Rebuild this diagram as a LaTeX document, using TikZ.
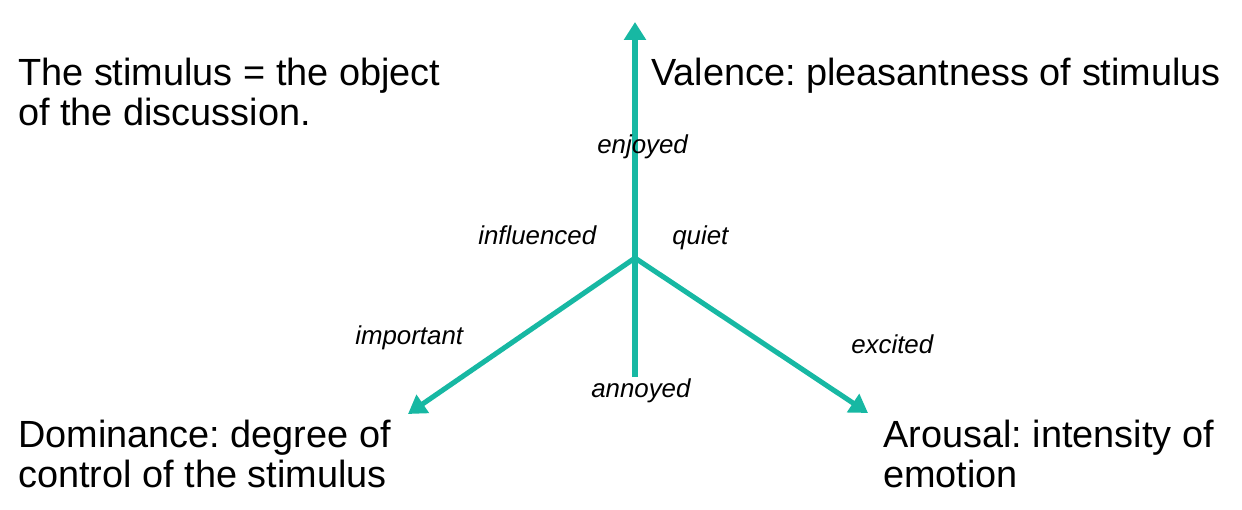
\documentclass[tikz,border=0pt]{standalone}
\usepackage{fontspec}
\setmainfont{Liberation Sans}
\frenchspacing
\usetikzlibrary{arrows.meta}
\definecolor{teal1}{RGB}{23,184,163}
\begin{document}
\frenchspacing
\begin{tikzpicture}[x=0.75pt,y=-0.75pt,
  bigtext/.style={anchor=base west,inner sep=0pt,align=left,font=\fontsize{28.4}{30}\selectfont},
  lbl/.style={anchor=base west,inner sep=0pt,font=\fontsize{19.4}{22}\selectfont\itshape},
  axis/.style={draw=teal1,line width=3.8pt},
  axisarrow/.style={axis,-{Triangle[width=16pt,length=13.5pt]}}]
\useasboundingbox (0,0) rectangle (1242,510);
\coordinate (c) at (635,258);
\coordinate (bot) at (635,377);
\coordinate (top) at (635,22);
\coordinate (left) at (408,414);
\coordinate (right) at (868,413);
\draw[axisarrow] (bot) -- (top);
\draw[axisarrow] (c) -- (left);
\draw[axisarrow] (c) -- (right);
\node[bigtext] (stim) at (18,125) {The stimulus = the object\\of the discussion.};
\node[bigtext] (val) at (651,85) {Valence: pleasantness of stimulus};
\node[bigtext] (dom) at (18,487) {Dominance: degree of\\control of the stimulus};
\node[bigtext] (aro) at (883,487) {Arousal: intensity of\\emotion};
\node[lbl] (enj) at (597,153) {enjoyed};
\node[lbl] (inf) at (478,244) {influenced};
\node[lbl] (qui) at (672,244) {quiet};
\node[lbl] (imp) at (355,344) {important};
\node[lbl] (exc) at (851,353) {excited};
\node[lbl] (ann) at (591,397) {annoyed};
\end{tikzpicture}
\end{document}
